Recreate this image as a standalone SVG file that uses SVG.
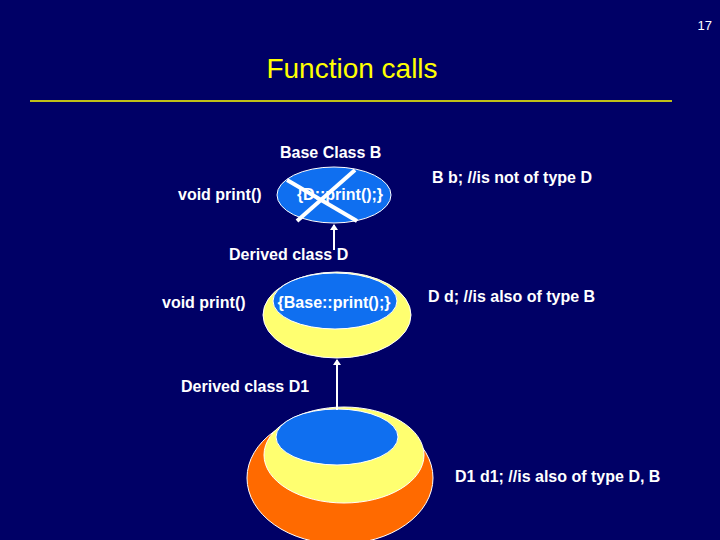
<svg xmlns="http://www.w3.org/2000/svg" width="720" height="540" viewBox="0 0 720 540">
<defs>
<style>
text{font-family:"Liberation Sans",Arial,sans-serif;fill:#fff;font-weight:bold;font-size:16px}
.e{stroke:#fff;stroke-width:1}
.blue{fill:#0f6ff0}.yel{fill:#ffff70}.org{fill:#ff6a00}
.arr{stroke:#fff;stroke-width:2;fill:none;marker-end:url(#ah)}
</style>
<marker id="ah" markerWidth="6" markerHeight="8" refX="5" refY="4" orient="auto" markerUnits="userSpaceOnUse"><path d="M0,0L6,4L0,8z" fill="#fff"/></marker>
</defs>
<rect width="720" height="540" fill="#000066"/>
<text x="712" y="30" style="font-size:13px;font-weight:normal" text-anchor="end">17</text>
<text x="352" y="78" style="font-size:28px;font-weight:normal;fill:#ffff00" text-anchor="middle">Function calls</text>
<line x1="30" y1="101" x2="672" y2="101" stroke="#ffff00" stroke-width="1.5"/>
<g id="d1">
<ellipse class="e org" cx="340" cy="478" rx="93" ry="66"/>
<ellipse class="e yel" cx="344" cy="455" rx="80" ry="48"/>
<ellipse class="e blue" cx="337" cy="437" rx="61" ry="28"/>
<text x="181" y="392">Derived class D1</text>
<text x="455" y="482">D1 d1; //is also of type D, B</text>
</g>
<g id="d">
<ellipse class="e yel" cx="337" cy="315" rx="74" ry="43"/>
<ellipse class="e blue" cx="335" cy="301" rx="62" ry="28"/>
<text x="229" y="260">Derived class D</text>
<text x="162" y="308">void print()</text>
<text x="334" y="308" text-anchor="middle">{Base::print();}</text>
<text x="428" y="302">D d; //is also of type B</text>
</g>
<g id="b">
<ellipse class="e blue" cx="334" cy="195" rx="57" ry="28"/>
<text x="280" y="158">Base Class B</text>
<text x="178" y="200">void print()</text>
<text x="340" y="200" text-anchor="middle">{D::print();}</text>
<line x1="287" y1="180" x2="357" y2="221" stroke="#fff" stroke-width="4"/>
<line x1="355" y1="170" x2="297" y2="221" stroke="#fff" stroke-width="4"/>
<text x="432" y="183">B b; //is not of type D</text>
</g>
<g id="connectors">
<path class="arr" d="M334,250V225"/>
<path class="arr" d="M337,410V360"/>
</g>
</svg>
